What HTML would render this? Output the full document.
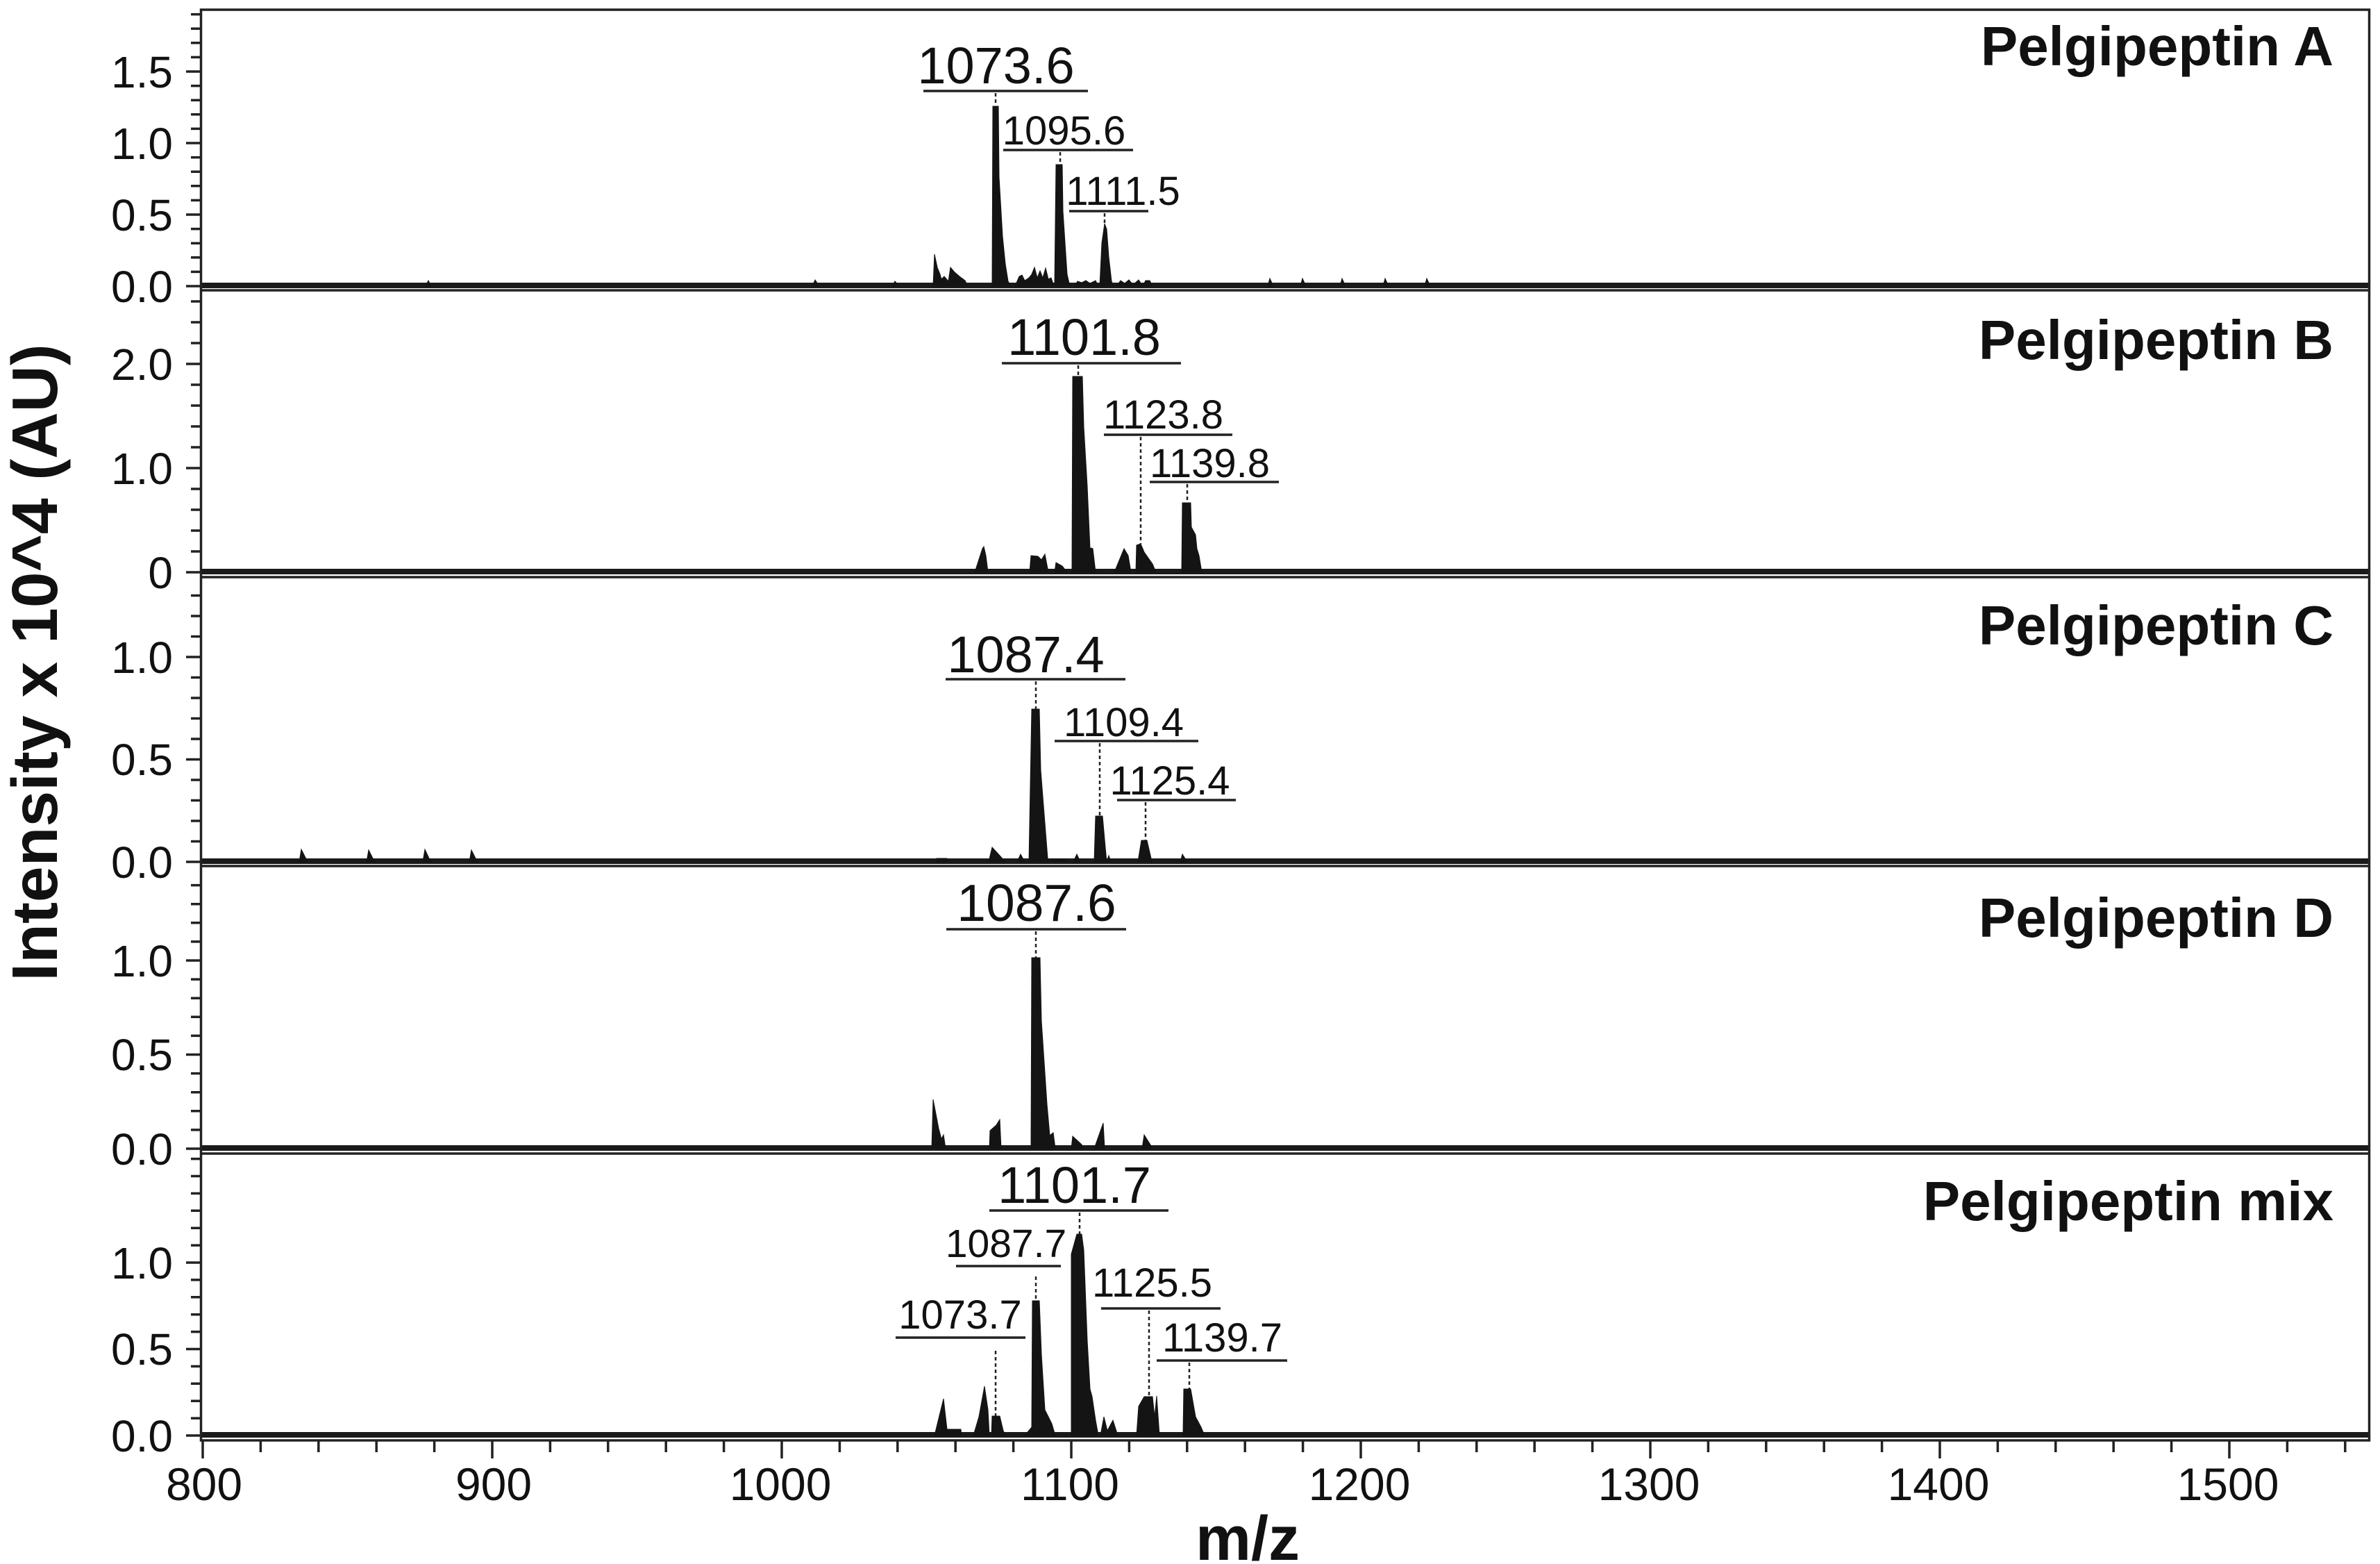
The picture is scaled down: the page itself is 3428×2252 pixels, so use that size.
<!DOCTYPE html>
<html>
<head>
<meta charset="utf-8">
<style>
html,body{margin:0;padding:0;background:#fff;}
svg{display:block;}
</style>
</head>
<body>
<svg width="3428" height="2252" viewBox="0 0 3428 2252" xmlns="http://www.w3.org/2000/svg" font-family="'Liberation Sans', Arial, sans-serif">
<rect x="0" y="0" width="3428" height="2252" fill="#fff"/>

<!-- baseline bands -->
<g fill="#1a1a1a">
<rect x="290" y="407" width="3122" height="8"/>
<rect x="290" y="819" width="3122" height="8"/>
<rect x="290" y="1236" width="3122" height="8"/>
<rect x="290" y="1649" width="3122" height="8"/>
<rect x="290" y="2062" width="3122" height="8"/>
</g>

<!-- frame & separators -->
<g stroke="#222" stroke-width="3.5" fill="none">
<rect x="289.5" y="14" width="3123" height="2060"/>
<line x1="289" y1="418" x2="3413" y2="418"/>
<line x1="289" y1="831" x2="3413" y2="831"/>
<line x1="289" y1="1247" x2="3413" y2="1247"/>
<line x1="289" y1="1661" x2="3413" y2="1661"/>
</g>

<!-- y ticks -->
<g stroke="#222" stroke-width="3.5">
<path d="M268 412h21M268 309h21M268 206h21M268 103h21
M275 391.4h14M275 370.8h14M275 350.2h14M275 329.6h14M275 288.4h14M275 267.8h14M275 247.2h14M275 226.6h14M275 185.4h14M275 164.8h14M275 144.2h14M275 123.6h14M275 82.4h14M275 61.8h14M275 41.2h14M275 20.6h14"/>
<path d="M268 824h21M268 674h21M268 524h21
M275 794h14M275 764h14M275 734h14M275 704h14M275 644h14M275 614h14M275 584h14M275 554h14M275 494h14M275 464h14M275 434h14"/>
<path d="M268 1241h21M268 1093.5h21M268 946h21
M275 1211.5h14M275 1182h14M275 1152.5h14M275 1123h14M275 1064h14M275 1034.5h14M275 1005h14M275 975.5h14M275 916.5h14M275 887h14M275 857.5h14"/>
<path d="M268 1654h21M268 1518.5h21M268 1383h21
M275 1626.9h14M275 1599.8h14M275 1572.7h14M275 1545.6h14M275 1491.4h14M275 1464.3h14M275 1437.2h14M275 1410.1h14M275 1355.9h14M275 1328.8h14M275 1301.7h14M275 1274.6h14"/>
<path d="M268 2067h21M268 1942.5h21M268 1818h21
M275 2042.1h14M275 2017.2h14M275 1992.3h14M275 1967.4h14M275 1917.6h14M275 1892.7h14M275 1867.8h14M275 1842.9h14M275 1793.1h14M275 1768.2h14M275 1743.3h14M275 1718.4h14M275 1693.5h14M275 1668.6h14"/>
</g>

<!-- x ticks -->
<g stroke="#222" stroke-width="3.5">
<path d="M292 2074v26M709 2074v26M1126 2074v26M1543 2074v26M1960 2074v26M2377 2074v26M2794 2074v26M3211 2074v26"/>
<path d="M375.4 2074v17M458.8 2074v17M542.2 2074v17M625.6 2074v17M792.4 2074v17M875.8 2074v17M959.2 2074v17M1042.6 2074v17M1209.4 2074v17M1292.8 2074v17M1376.2 2074v17M1459.6 2074v17M1626.4 2074v17M1709.8 2074v17M1793.2 2074v17M1876.6 2074v17M2043.4 2074v17M2126.8 2074v17M2210.2 2074v17M2293.6 2074v17M2460.4 2074v17M2543.8 2074v17M2627.2 2074v17M2710.6 2074v17M2877.4 2074v17M2960.8 2074v17M3044.2 2074v17M3127.6 2074v17M3294.4 2074v17M3377.8 2074v17"/>
</g>

<!-- y tick labels -->
<g font-size="64" text-anchor="end" fill="#111">
<text x="249" y="435">0.0</text>
<text x="249" y="332">0.5</text>
<text x="249" y="229">1.0</text>
<text x="249" y="126">1.5</text>
<text x="249" y="847">0</text>
<text x="249" y="697">1.0</text>
<text x="249" y="547">2.0</text>
<text x="249" y="1264">0.0</text>
<text x="249" y="1116">0.5</text>
<text x="249" y="969">1.0</text>
<text x="249" y="1677">0.0</text>
<text x="249" y="1541">0.5</text>
<text x="249" y="1406">1.0</text>
<text x="249" y="2090">0.0</text>
<text x="249" y="1965">0.5</text>
<text x="249" y="1841">1.0</text>
</g>

<!-- x tick labels -->
<g font-size="66" text-anchor="middle" fill="#111">
<text x="294" y="2160">800</text>
<text x="711" y="2160">900</text>
<text x="1124" y="2160">1000</text>
<text x="1541" y="2160">1100</text>
<text x="1958" y="2160">1200</text>
<text x="2375" y="2160">1300</text>
<text x="2792" y="2160">1400</text>
<text x="3209" y="2160">1500</text>
</g>

<!-- axis titles -->
<text x="1797" y="2246" font-size="90" font-weight="bold" text-anchor="middle" fill="#111">m/z</text>
<text transform="translate(82,954) rotate(-90)" font-size="93" font-weight="bold" text-anchor="middle" fill="#111">Intensity x 10^4 (AU)</text>

<!-- panel titles -->
<g font-size="80" font-weight="bold" text-anchor="end" fill="#111">
<text x="3361" y="94">Pelgipeptin A</text>
<text x="3361" y="517">Pelgipeptin B</text>
<text x="3361" y="928">Pelgipeptin C</text>
<text x="3361" y="1349">Pelgipeptin D</text>
<text x="3361" y="1757">Pelgipeptin mix</text>
</g>

<!-- spectra -->
<g fill="#141414" stroke="#141414" stroke-width="1">
<!-- A -->
<polygon points="613,412 617,404 621,412"/>
<polygon points="1170,412 1174,403 1180,412"/>
<polygon points="1285,412 1289,405 1295,412"/>
<polygon points="1344,412 1346,366 1350,385 1354,395 1356,402 1360,398 1366,405 1369,385 1375,392 1382,398 1390,404 1394,412"/>
<polygon points="1429,412 1430,153 1438,153 1439,255 1444,340 1448,380 1452,405 1456,412"/>
<polygon points="1462,412 1468,398 1472,396 1476,404 1482,400 1486,395 1490,385 1494,400 1498,390 1502,400 1506,386 1510,402 1514,400 1518,412"/>
<polygon points="1519,412 1521,237 1530,237 1531,304 1534,350 1537,395 1540,408 1544,412"/>
<polygon points="1548,412 1552,405 1558,407 1564,404 1570,408 1578,404 1582,412"/>
<polygon points="1584,412 1587,350 1591,322 1594,330 1597,370 1601,405 1604,412"/>
<polygon points="1608,412 1614,404 1620,408 1626,403 1632,410 1640,403 1646,412 1650,404 1656,404 1660,412"/>
<polygon points="1826,412 1829,401 1834,412"/>
<polygon points="1873,412 1876,401 1881,412"/>
<polygon points="1930,412 1933,401 1938,412"/>
<polygon points="1992,412 1995,401 2000,412"/>
<polygon points="2052,412 2055,401 2060,412"/>
<!-- B -->
<polygon points="1404,824 1415,790 1417,787 1420,800 1423,824"/>
<polygon points="1483,824 1485,800 1495,801 1500,806 1505,798 1510,824"/>
<polygon points="1519,824 1521,810 1530,815 1537,824"/>
<polygon points="1544,824 1545,542 1559,542 1561,615 1566,700 1570,790 1572,789 1574,790 1578,824"/>
<polygon points="1605,824 1619,790 1625,800 1629,824"/>
<polygon points="1636,824 1637,785 1643,783 1648,795 1655,805 1660,812 1665,824"/>
<polygon points="1702,824 1703,724 1715,724 1716,759 1722,770 1724,790 1727,800 1731,824"/>
<!-- C -->
<polygon points="431,1241 434,1223 440,1235 444,1241"/>
<polygon points="528,1241 531,1224 537,1236 541,1241"/>
<polygon points="609,1241 612,1223 618,1236 622,1241"/>
<polygon points="676,1241 679,1224 685,1236 689,1241"/>
<polygon points="1348,1241 1349,1236 1364,1236 1365,1241"/>
<polygon points="1424,1241 1429,1220 1440,1232 1448,1241"/>
<polygon points="1465,1241 1470,1230 1476,1241"/>
<polygon points="1482,1241 1486,1021 1497,1021 1499,1109 1503,1160 1509,1236 1512,1241"/>
<polygon points="1512,1241 1514,1237 1535,1237 1538,1241"/>
<polygon points="1546,1241 1551,1230 1556,1241"/>
<polygon points="1576,1241 1578,1175 1588,1175 1592,1220 1594,1241"/>
<polygon points="1594,1241 1597,1232 1600,1241"/>
<polygon points="1639,1241 1644,1210 1652,1210 1658,1236 1660,1241"/>
<polygon points="1700,1241 1703,1230 1710,1241"/>
<!-- D -->
<polygon points="1342,1654 1344,1583 1352,1625 1356,1640 1359,1634 1362,1654"/>
<polygon points="1425,1654 1426,1628 1435,1620 1440,1612 1442,1654"/>
<polygon points="1485,1654 1486,1379 1498,1379 1500,1470 1508,1590 1512,1635 1517,1631 1520,1654"/>
<polygon points="1543,1654 1545,1636 1558,1648 1560,1654"/>
<polygon points="1576,1654 1589,1617 1591,1654"/>
<polygon points="1645,1654 1648,1634 1658,1650 1660,1654"/>
<!-- E -->
<polygon points="1346,2067 1359,2014 1364,2058 1384,2058 1385,2067"/>
<polygon points="1402,2067 1410,2040 1418,1996 1423,2030 1425,2067"/>
<polygon points="1428,2067 1429,2039 1440,2039 1445,2060 1448,2067"/>
<polygon points="1476,2067 1486,2055 1487,1873 1497,1873 1500,1950 1505,2030 1510,2040 1515,2050 1520,2067"/>
<polygon points="1543,2067 1543,1806 1551,1777 1558,1777 1561,1800 1566,1930 1570,2000 1573,2011 1578,2045 1582,2067"/>
<polygon points="1585,2067 1590,2040 1595,2060 1603,2045 1610,2067"/>
<polygon points="1637,2067 1640,2025 1648,2011 1660,2011 1663,2040 1666,2010 1670,2067"/>
<polygon points="1704,2067 1705,2000 1715,2000 1722,2040 1730,2055 1735,2067"/>
</g>

<!-- underlines -->
<g stroke="#222" stroke-width="3.5">
<line x1="1330" y1="131" x2="1567" y2="131"/>
<line x1="1445" y1="216" x2="1632" y2="216"/>
<line x1="1540" y1="304" x2="1654" y2="304"/>
<line x1="1443" y1="523" x2="1701" y2="523"/>
<line x1="1590" y1="626" x2="1775" y2="626"/>
<line x1="1656" y1="694" x2="1842" y2="694"/>
<line x1="1362" y1="978" x2="1621" y2="978"/>
<line x1="1519" y1="1067" x2="1726" y2="1067"/>
<line x1="1609" y1="1152" x2="1780" y2="1152"/>
<line x1="1363" y1="1338" x2="1622" y2="1338"/>
<line x1="1425" y1="1743" x2="1683" y2="1743"/>
<line x1="1377" y1="1823" x2="1528" y2="1823"/>
<line x1="1290" y1="1926" x2="1477" y2="1926"/>
<line x1="1586" y1="1884" x2="1758" y2="1884"/>
<line x1="1666" y1="1959" x2="1854" y2="1959"/>
</g>

<!-- dotted leaders -->
<g stroke="#222" stroke-width="2.5" stroke-dasharray="5 4">
<line x1="1434" y1="134" x2="1434" y2="152"/>
<line x1="1527" y1="219" x2="1527" y2="236"/>
<line x1="1591" y1="307" x2="1591" y2="321"/>
<line x1="1553" y1="526" x2="1553" y2="542"/>
<line x1="1643" y1="629" x2="1643" y2="783"/>
<line x1="1710" y1="697" x2="1710" y2="723"/>
<line x1="1492" y1="981" x2="1492" y2="1021"/>
<line x1="1584" y1="1070" x2="1584" y2="1175"/>
<line x1="1650" y1="1155" x2="1650" y2="1210"/>
<line x1="1492" y1="1341" x2="1492" y2="1379"/>
<line x1="1555" y1="1746" x2="1555" y2="1777"/>
<line x1="1492" y1="1838" x2="1492" y2="1873"/>
<line x1="1434" y1="1945" x2="1434" y2="2039"/>
<line x1="1655" y1="1887" x2="1655" y2="2011"/>
<line x1="1713" y1="1962" x2="1713" y2="2000"/>
</g>

<!-- peak labels -->
<g text-anchor="middle" fill="#111">
<text x="1434.5" y="120" font-size="74">1073.6</text>
<text x="1532.5" y="208" font-size="58">1095.6</text>
<text x="1617.5" y="295" font-size="58">1111.5</text>
<text x="1561.5" y="511" font-size="74">1101.8</text>
<text x="1675.5" y="617" font-size="58">1123.8</text>
<text x="1742.5" y="687" font-size="58">1139.8</text>
<text x="1477.5" y="968" font-size="74">1087.4</text>
<text x="1618.5" y="1060" font-size="58">1109.4</text>
<text x="1685" y="1144" font-size="58">1125.4</text>
<text x="1493" y="1326" font-size="75">1087.6</text>
<text x="1547.5" y="1732" font-size="74">1101.7</text>
<text x="1449" y="1810" font-size="57">1087.7</text>
<text x="1383" y="1913" font-size="58">1073.7</text>
<text x="1659.5" y="1867" font-size="58">1125.5</text>
<text x="1760.5" y="1946" font-size="58">1139.7</text>
</g>
</svg>
</body>
</html>
